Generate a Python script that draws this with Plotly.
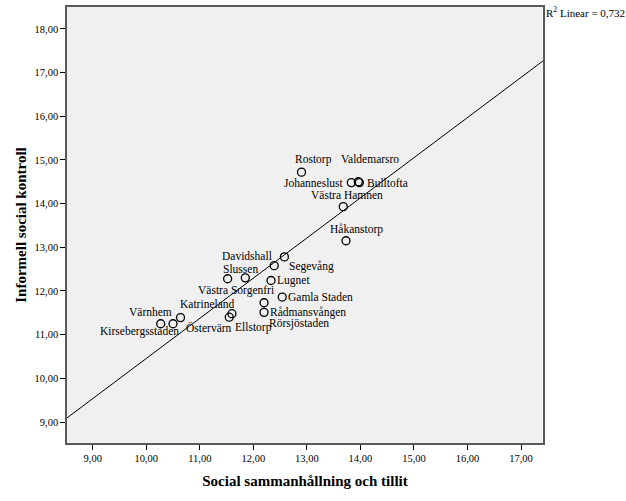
import numpy as np
import plotly.graph_objects as go

# Stadsdelar (Malmö)
names = ["Rostorp", "Valdemarsro", "Johanneslust", "Bulltofta", "Västra Hamnen",
         "Håkanstorp", "Davidshall", "Segevång", "Slussen", "Västra Sorgenfri",
         "Lugnet", "Gamla Staden", "Rörsjöstaden", "Rådmansvången", "Katrineland",
         "Ellstorp", "Värnhem", "Kirsebergsstaden", "Östervärn"]
tillit = [12.90, 13.96, 13.83, 13.98, 13.68,
          13.73, 12.58, 12.39, 11.85, 11.52,
          12.33, 12.54, 12.20, 12.20, 11.60,
          11.55, 10.50, 10.27, 10.64]
kontroll = [14.72, 14.50, 14.48, 14.48, 13.93,
            13.15, 12.78, 12.58, 12.30, 12.28,
            12.24, 11.86, 11.73, 11.51, 11.48,
            11.40, 11.25, 11.25, 11.39]

x_ticks = [9, 10, 11, 12, 13, 14, 15, 16, 17]
y_ticks = [9, 10, 11, 12, 13, 14, 15, 16, 17, 18]
x_range = [8.52, 17.41]
y_range = [8.52, 18.50]

# label placement (pixel offsets from the point): xshift, yshift, xanchor
label_pos = {
    "Rostorp": (12, 13, "center"),
    "Valdemarsro": (12, 23, "center"),
    "Johanneslust": (-5, 0, "right"),
    "Bulltofta": (6, 0, "left"),
    "Västra Hamnen": (4, 12, "center"),
    "Håkanstorp": (11, 11, "center"),
    "Davidshall": (-10, 1, "right"),
    "Segevång": (13, -1, "left"),
    "Slussen": (-5, 9, "center"),
    "Västra Sorgenfri": (8, -12, "center"),
    "Lugnet": (4, 0, "left"),
    "Gamla Staden": (4, 0, "left"),
    "Rörsjöstaden": (3, -21, "left"),
    "Rådmansvången": (4, 0, "left"),
    "Katrineland": (-24, 10, "center"),
    "Ellstorp": (4, -10, "left"),
    "Värnhem": (-23, 12, "center"),
    "Kirsebergsstaden": (-21, -8, "center"),
    "Östervärn": (3, -10, "left"),
}

serif = "Liberation Serif, Times New Roman, serif"

slope, intercept = np.polyfit(tillit, kontroll, 1)
fit_x = np.array(x_range)
fit_y = intercept + slope * fit_x

fig = go.Figure()
fig.add_trace(go.Scatter(x=fit_x, y=fit_y, mode="lines",
                         line=dict(color="black", width=1), hoverinfo="skip"))
fig.add_trace(go.Scatter(x=tillit, y=kontroll, mode="markers", text=names,
                         marker=dict(symbol="circle-open", size=8,
                                     color="black", line=dict(width=1.3))))

for n, xv, yv in zip(names, tillit, kontroll):
    dx, dy, anchor = label_pos[n]
    fig.add_annotation(x=xv, y=yv, text=n, showarrow=False,
                       xanchor=anchor, yanchor="middle",
                       xshift=dx, yshift=dy,
                       font=dict(family=serif, size=11.5, color="black"))

fig.add_annotation(xref="paper", yref="paper", x=1.002, y=1.01,
                   text="R<sup>2</sup> Linear = 0,732", showarrow=False,
                   xanchor="left", yanchor="top",
                   font=dict(family=serif, size=11, color="black"))

axis_common = dict(showgrid=False, zeroline=False, showline=True, mirror=True,
                   linecolor="#5a5a5a", linewidth=1.5, ticks="outside",
                   ticklen=5, tickcolor="black", tickformat=".2f",
                   tickfont=dict(family=serif, size=10.5, color="black"))

fig.update_xaxes(range=x_range, tickvals=x_ticks,
                 title=dict(text="<b>Social sammanhållning och tillit</b>",
                            font=dict(family=serif, size=15, color="black"),
                            standoff=12),
                 **axis_common)
fig.update_yaxes(range=y_range, tickvals=y_ticks,
                 title=dict(text="<b>Informell social kontroll</b>",
                            font=dict(family=serif, size=15, color="black"),
                            standoff=4),
                 **axis_common)

fig.update_layout(width=626, height=501, separators=",.",
                  plot_bgcolor="#f0f0f0", paper_bgcolor="white",
                  showlegend=False,
                  margin=dict(l=67, r=83, t=5, b=58))

# the page's default body margin would shift the chart by 8px
fig.write_html("out.html", config={"displayModeBar": False},
               post_script="document.body.style.margin='0';")
